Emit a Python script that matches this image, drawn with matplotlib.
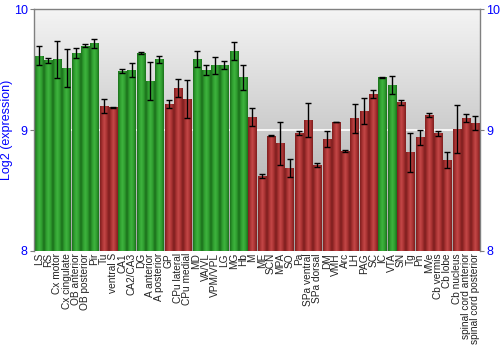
import numpy as np
import matplotlib
matplotlib.use('Agg')
import matplotlib.pyplot as plt

plt.rcParams['font.family'] = ['Liberation Sans', 'DejaVu Sans']

# Regions, mean log2 expression and error
regions = ['LS', 'RS', 'Cx motor', 'Cx cingulate', 'OB anterior', 'OB posterior', 'Pir',
           'Tu', 'ventral S', 'CA1', 'CA2/CA3', 'DG', 'A anterior', 'A posterior',
           'GP', 'CPu lateral', 'CPu medial', 'MD', 'VA/VL', 'VPM/VPL', 'LG', 'MG', 'Hb',
           'M', 'ME', 'SCN', 'MPA', 'SO', 'Pa', 'SPa ventral', 'SPa dorsal', 'DM', 'VMH',
           'Arc', 'LH', 'PAG', 'SC', 'IC', 'VTA', 'SN', 'Tg', 'Pn', 'MVe', 'Cb vermis',
           'Cb lobe', 'Cb nucleus', 'spinal cord anterior', 'spinal cord posterior']
values = [9.614, 9.576, 9.584, 9.512, 9.636, 9.697, 9.716,
          9.198, 9.188, 9.488, 9.496, 9.636, 9.405, 9.584,
          9.215, 9.350, 9.254, 9.584, 9.499, 9.535, 9.537, 9.653, 9.435,
          9.107, 8.620, 8.953, 8.890, 8.686, 8.973, 9.080, 8.713, 8.926, 9.066,
          8.826, 9.096, 9.157, 9.298, 9.435, 9.372, 9.228, 8.815, 8.942, 9.121, 8.973,
          8.752, 9.011, 9.099, 9.058]
errors = [0.080, 0.020, 0.150, 0.160, 0.040, 0.014, 0.040,
          0.055, 0.005, 0.014, 0.060, 0.008, 0.160, 0.030,
          0.035, 0.073, 0.157, 0.066, 0.040, 0.070, 0.030, 0.076, 0.106,
          0.072, 0.015, 0.005, 0.180, 0.072, 0.015, 0.140, 0.015, 0.070, 0.003,
          0.008, 0.123, 0.110, 0.030, 0.003, 0.074, 0.023, 0.160, 0.062, 0.017, 0.022,
          0.069, 0.198, 0.033, 0.056]
high = [1, 1, 1, 1, 1, 1, 1,
        0, 0, 1, 1, 1, 1, 1,
        0, 0, 0, 1, 1, 1, 1, 1, 1,
        0, 0, 0, 0, 0, 0, 0, 0, 0, 0,
        0, 0, 0, 0, 1, 1, 0, 0, 0, 0, 0,
        0, 0, 0, 0]

BLUE = '#0000ff'
GREEN_CMAP = matplotlib.colors.LinearSegmentedColormap.from_list(
    'g', ['#1c701c', '#2f9e2f', '#3fb43f', '#2f9e2f', '#1c701c'])
RED_CMAP = matplotlib.colors.LinearSegmentedColormap.from_list(
    'r', ['#7e1e1e', '#a83232', '#c44848', '#a83232', '#7e1e1e'])

fig = plt.figure(figsize=(5, 3.5), dpi=100)
ax = fig.add_axes([0.068, 0.283, 0.892, 0.691])

x = np.arange(len(regions))
ax.set_xlim(-0.5, len(regions) - 0.5)
ax.set_ylim(8, 10)

# gray gradient background
bg = np.linspace(0, 1, 256).reshape(-1, 1)
bg_cmap = matplotlib.colors.LinearSegmentedColormap.from_list('bg', ['#a4a4a4', '#f4f4f4'])
ax.imshow(bg, extent=[-0.5, len(regions) - 0.5, 8, 10], aspect='auto',
          cmap=bg_cmap, origin='lower', zorder=0)
ax.axhline(9, color='white', lw=1.2, zorder=1)

bars = ax.bar(x, np.array(values) - 8, bottom=8, width=0.88, color='none',
              edgecolor='none', zorder=2)
shade = np.linspace(0, 1, 64).reshape(1, -1)
for bar, h in zip(bars, high):
    x0 = bar.get_x()
    w = bar.get_width()
    im = ax.imshow(shade, extent=[x0, x0 + w, 8, 8 + bar.get_height()], aspect='auto',
                   cmap=GREEN_CMAP if h else RED_CMAP, zorder=2)
    im.set_clip_path(bar)

ax.errorbar(x, values, yerr=errors, fmt='none', ecolor='black', elinewidth=1,
            capsize=2.5, capthick=1, zorder=3)

ax.set_xticks(x)
ax.set_xticklabels(regions, rotation=90, fontsize=7.3, color='#222222')
ax.tick_params(axis='x', length=0, pad=1.5)

ax.set_yticks([8, 9, 10])
ax.tick_params(axis='y', colors='#808080', labelcolor=BLUE, labelsize=9, length=3,
               pad=1.5, left=True, right=True, labelright=True)
ax.set_ylabel('Log2 (expression)', color=BLUE, fontsize=9)
ax.yaxis.set_label_coords(-0.048, 0.5)

for s in ax.spines.values():
    s.set_color('#808080')
    s.set_linewidth(1)
ax.spines['bottom'].set_visible(False)

fig.savefig('out.png', dpi=100, facecolor='white')
